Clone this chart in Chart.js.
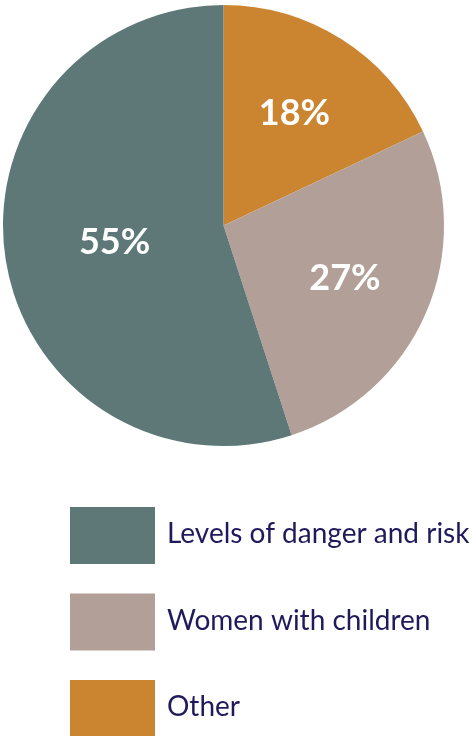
<!DOCTYPE html>
<html>
<head>
<meta charset="utf-8">
<script src="https://cdn.jsdelivr.net/npm/chart.js@4"></script>
<style>
  html, body { margin: 0; padding: 0; background: #fff; }
  #wrap { width: 472px; height: 736px; position: relative; }
</style>
</head>
<body>
<div id="wrap"><canvas id="myChart" width="472" height="736"></canvas></div>
<script>
// slices, clockwise from 12 o'clock
const labels = ["Other", "Women with children", "Levels of danger and risk"];
const values = [18, 27, 55];
const colors = ["#cb8530", "#b2a098", "#5e7878"];
// legend is listed in the reverse order
const legendOrder = [2, 1, 0];

const textColor = "#1f1a5c";

// white % labels inside the slices
const sliceLabels = {
  id: "sliceLabels",
  afterDatasetsDraw(chart) {
    const ctx = chart.ctx;
    const meta = chart.getDatasetMeta(0);
    const total = values.reduce((a, b) => a + b, 0);
    ctx.save();
    ctx.fillStyle = "#fff";
    ctx.font = "bold 36px Lato";
    ctx.textAlign = "center";
    ctx.textBaseline = "middle";
    meta.data.forEach((arc, i) => {
      const p = arc.getProps(["x", "y", "startAngle", "endAngle", "outerRadius"], true);
      const mid = (p.startAngle + p.endAngle) / 2;
      // big slice label sits a bit closer to the centre
      const r = p.outerRadius * (values[i] / total > 0.5 ? 0.5 : 0.6);
      const pct = Math.round(values[i] / total * 100) + "%";
      ctx.fillText(pct, p.x + Math.cos(mid) * r, p.y + Math.sin(mid) * r);
    });
    ctx.restore();
  }
};

// square legend under the pie
const boxLegend = {
  id: "boxLegend",
  afterDraw(chart) {
    const ctx = chart.ctx;
    ctx.save();
    ctx.font = "28px Lato";
    ctx.textBaseline = "middle";
    legendOrder.forEach((idx, row) => {
      const top = 507 + row * 86.5;
      ctx.fillStyle = colors[idx];
      ctx.fillRect(70, top, 85, 57);
      ctx.fillStyle = textColor;
      ctx.fillText(labels[idx], 167, top + 27);
    });
    ctx.restore();
  }
};

const ctx = document.getElementById("myChart").getContext("2d");
const myChart = new Chart(ctx, {
  type: "pie",
  data: {
    labels: labels,
    datasets: [{
      data: values,
      backgroundColor: colors,
      borderWidth: 0
    }]
  },
  options: {
    responsive: false,
    animation: false,
    layout: { padding: { left: 3, right: 28, top: 5, bottom: 290 } },
    plugins: {
      legend: { display: false },
      tooltip: { enabled: false }
    }
  },
  plugins: [sliceLabels, boxLegend]
});
</script>
</body>
</html>
